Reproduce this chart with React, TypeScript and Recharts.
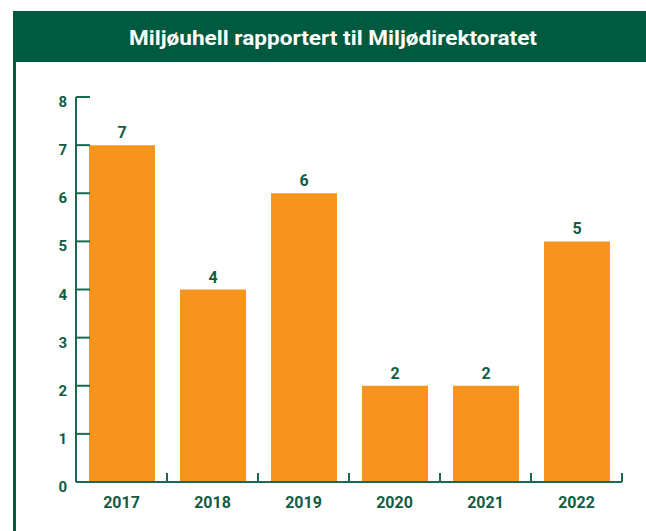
import React from 'react';
import { BarChart, Bar, XAxis, YAxis, LabelList } from 'recharts';

const years = ['2017', '2018', '2019', '2020', '2021', '2022'];
const incidents = [7, 4, 6, 2, 2, 5];
const yTicks = [0, 1, 2, 3, 4, 5, 6, 7, 8];
const title = 'Miljøuhell rapportert til Miljødirektoratet';

const data = years.map((year, i) => ({ year, value: incidents[i] }));

const GREEN = '#005a3f';
const TEXT = '#135c42';
const AXIS = '#1c6a4c';
const ORANGE = '#f7941e';
const FONT = 'Roboto, "DejaVu Sans", sans-serif';

const W = 646;
const H = 531;
const M = { top: 97, right: 24, bottom: 19, left: 46 };
const Y_W = 30;
const X_H = 30;
const PLOT_W = W - M.left - M.right - Y_W;
const BAND = PLOT_W / years.length;

const YTick = (props: any) => {
  const { x, y, payload } = props;
  return (
    <g>
      <line x1={x} x2={x + 14} y1={y} y2={y} stroke={AXIS} strokeWidth={2} />
      <text x={x - 9} y={y + 10} textAnchor="end" fill={TEXT} fontFamily={FONT} fontWeight={700} fontSize={15}>
        {payload.value}
      </text>
    </g>
  );
};

const XTick = (props: any) => {
  const { x, y, payload } = props;
  const bx = x + BAND / 2;
  return (
    <g>
      <line x1={bx} x2={bx} y1={y} y2={y - 9} stroke={AXIS} strokeWidth={2} />
      <text x={x} y={y + 26} textAnchor="middle" fill={TEXT} fontFamily={FONT} fontWeight={700} fontSize={16}>
        {payload.value}
      </text>
    </g>
  );
};

export default function App() {
  return (
    <div style={{ position: 'absolute', left: 0, top: 0, width: W, height: H, background: '#fff', overflow: 'hidden' }}>
      <div style={{ position: 'absolute', left: 13, top: 11, width: W - 13, height: 51, background: GREEN }} />
      <div style={{ position: 'absolute', left: 13, top: 11, width: 3, height: H - 11, background: GREEN }} />
      <svg style={{ position: 'absolute', left: 0, top: 0 }} width={W} height={70}>
        <text
          x={333}
          y={45}
          textAnchor="middle"
          fill="#ffffff"
          fontFamily={FONT}
          fontWeight={700}
          fontSize={20}
          textLength={408}
          lengthAdjust="spacingAndGlyphs"
        >
          {title}
        </text>
      </svg>
      <div style={{ position: 'absolute', left: 0, top: 0 }}>
        <BarChart width={W} height={H} data={data} margin={M}>
          <XAxis
            dataKey="year"
            height={X_H}
            axisLine={{ stroke: AXIS, strokeWidth: 2 }}
            tickLine={false}
            tickSize={0}
            tickMargin={0}
            tick={XTick}
            interval={0}
          />
          <YAxis
            width={Y_W}
            domain={[0, 8]}
            ticks={yTicks}
            type="number"
            axisLine={{ stroke: AXIS, strokeWidth: 2 }}
            tickLine={false}
            tickSize={0}
            tickMargin={0}
            tick={YTick}
            interval={0}
          />
          <Bar dataKey="value" fill={ORANGE} barSize={66} isAnimationActive={false}>
            <LabelList
              dataKey="value"
              position="top"
              offset={7}
              fill={TEXT}
              fontFamily={FONT}
              fontWeight={700}
              fontSize={16}
            />
          </Bar>
        </BarChart>
      </div>
    </div>
  );
}
